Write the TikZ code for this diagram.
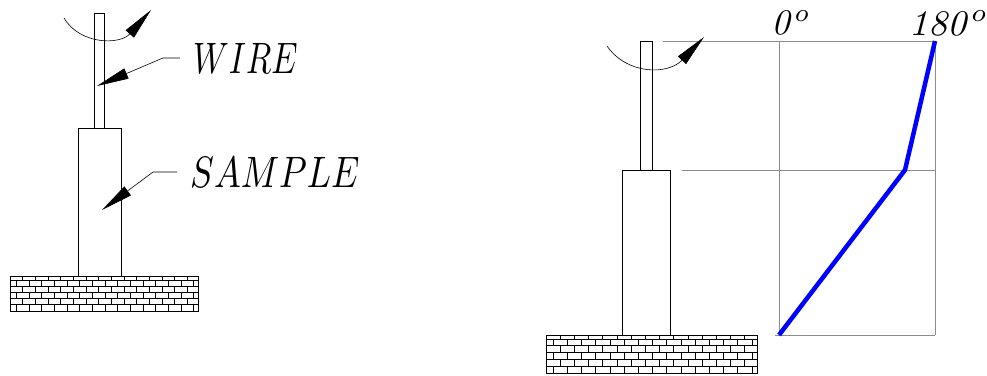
\documentclass[tikz,border=0pt]{standalone}
\usetikzlibrary{arrows.meta}
\newcommand{\bigmath}[3]{\scalebox{#1}[#2]{$#3$}}
\newcommand{\brickwall}[5]{
\begin{scope}
\clip (#1,#2) rectangle (#3,#4);
\pgfmathsetmacro{\rowh}{(#4-#2-4)/5}
\foreach \r in {0,...,5}{
    \pgfmathsetmacro{\ya}{\r==0 ? #2 : #2+4+(\r-1)*\rowh}
    \pgfmathsetmacro{\yb}{#2+4+\r*\rowh}
    \pgfmathsetmacro{\xs}{mod(\r,2)==0 ? #1 : #1+#5/2}
    \draw[brick] (#1,\yb)--(#3,\yb);
    \foreach \k in {0,...,16}{
        \draw[brick] ({\xs+\k*#5},\ya)--({\xs+\k*#5},\yb);
    }
}
\end{scope}
\draw[brick] (#1,#2) rectangle (#3,#4);
}
\tikzset{
    part/.style={draw,line width=0.8pt},
    brick/.style={line width=0.8pt},
    gridline/.style={draw=black!45,line width=0.8pt},
    bigtip/.style={-{Triangle[length=32pt,width=11pt]},line width=0.6pt},
    callout/.style={inner xsep=13pt,inner ysep=0pt,anchor=west},
    degree/.style={inner sep=0pt}
}
\begin{document}
\begin{tikzpicture}[x=1pt,y=-1pt]
\useasboundingbox (0,0) rectangle (987,375);
\draw[part] (94,13) rectangle (104,128);
\draw[part] (78,128) rectangle (121,276);
\brickwall{10}{276}{198}{311}{12.67}
\node[callout] (wirelabel) at (180,58) {\bigmath{3.3}{4.4}{WIRE}};
\node[callout] (samplelabel) at (177,172) {\bigmath{3.56}{4.4}{SAMPLE}};
\coordinate (wiretip) at (97,86);
\coordinate (sampletip) at (102,210);
\coordinate (twiststart) at (64,18);
\coordinate (twisttip) at (151,10);
\draw[bigtip] (wirelabel.west)--(163,58)--(wiretip);
\draw[bigtip] (samplelabel.west)--(153,172)--(sampletip);
\draw[bigtip] (twiststart) .. controls (80,45) and (120,45) .. (twisttip);
\draw[part] (640,41) rectangle (652,170);
\draw[part] (622,170) rectangle (670,335);
\brickwall{546}{335}{757}{373}{14.2}
\draw[gridline] (663,41)--(935,41);
\draw[gridline] (682,170)--(935,170);
\draw[gridline] (775,335)--(935,335);
\draw[gridline] (779,41)--(779,335);
\draw[gridline] (935,41)--(935,335);
\draw[blue,line width=4.5pt,line join=round] (779,335)--(905,170)--(935,41);
\node[degree] (zerolabel) at (791,23) {\bigmath{3.6}{3.6}{\mathit{0}^{o}}};
\node[degree] (halflabel) at (948.5,23) {\bigmath{3.75}{3.6}{\mathit{180}^{o}}};
\coordinate (twiststartb) at (607,46);
\coordinate (twisttipb) at (704,37);
\draw[bigtip] (twiststartb) .. controls (627,75) and (668,75) .. (twisttipb);
\end{tikzpicture}
\end{document}
